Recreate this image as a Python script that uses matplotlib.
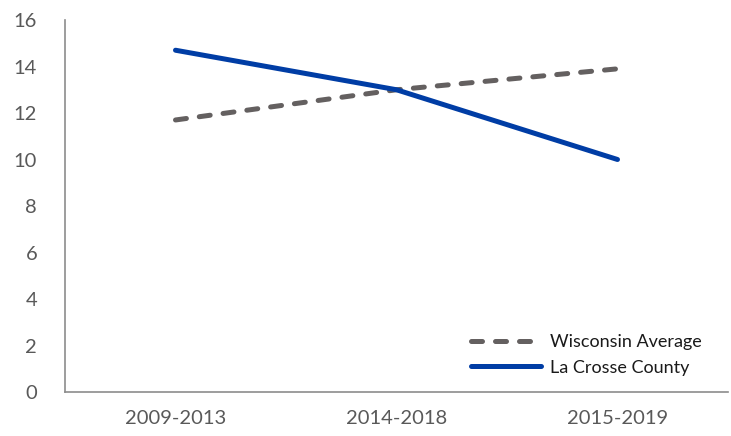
import matplotlib.pyplot as plt

periods = ["2009-2013", "2014-2018", "2015-2019"]
wisconsin = [11.7, 13.0, 13.9]
la_crosse = [14.7, 13.0, 10.0]

plt.rcParams['font.family'] = ['Lato', 'DejaVu Sans']
tick_col = '#595959'

fig = plt.figure(figsize=(7.31, 4.36), dpi=100)
ax = fig.add_axes([65 / 731, 1 - 392 / 436, 663 / 731, 372 / 436])

x = range(len(periods))
ax.plot(x, wisconsin, color='#646060', lw=3.6, dashes=(2.2, 2.6),
        dash_capstyle='round', label='Wisconsin Average')
ax.plot(x, la_crosse, color='#003DA5', lw=3.6, solid_capstyle='round',
        label='La Crosse County')

ax.set_xlim(-0.5, 2.5)
ax.set_ylim(0, 16)
ax.set_yticks(range(0, 17, 2))
ax.set_xticks(list(x))
ax.set_xticklabels(periods)
ax.tick_params(axis='both', length=0, labelsize=14.5, colors=tick_col)
ax.tick_params(axis='x', pad=13)
ax.tick_params(axis='y', pad=20)
for s in ['top', 'right']:
    ax.spines[s].set_visible(False)
for s in ['left', 'bottom']:
    ax.spines[s].set_color('#8c8c8c')
    ax.spines[s].set_linewidth(1.2)

ax.legend(loc='lower right', bbox_to_anchor=(0.985, 0.0), frameon=False,
          fontsize=13, handlelength=3.9, handletextpad=0.5, labelspacing=0.55,
          labelcolor='#1a1a1a')

fig.savefig('out.png', dpi=100)
